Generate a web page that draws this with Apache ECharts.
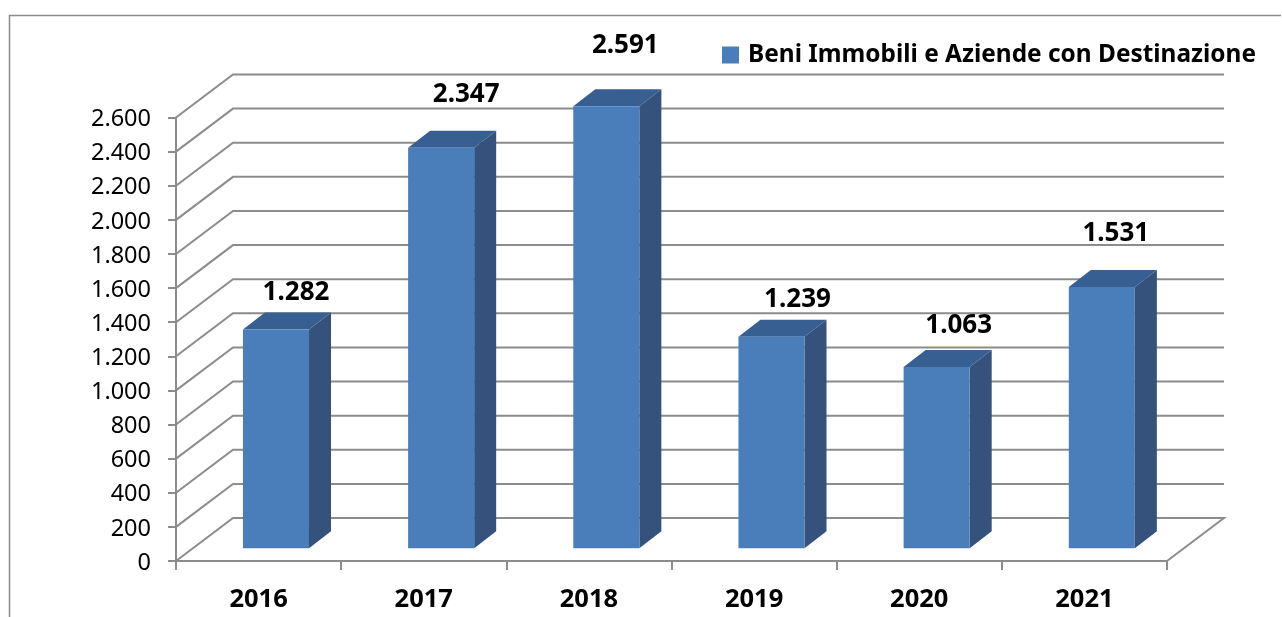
<!DOCTYPE html>
<html><head><meta charset="utf-8">
<style>html,body{margin:0;padding:0;background:#fff}#c{width:1282px;height:617px}</style>
<script src="https://cdn.jsdelivr.net/npm/echarts@6/dist/echarts.min.js"></script>
</head><body><div id="c"></div>
<script>
const categories = ['2016','2017','2018','2019','2020','2021'];
const values = [1282,2347,2591,1239,1063,1531];
const yTicks = [0,200,400,600,800,1000,1200,1400,1600,1800,2000,2200,2400,2600];
const seriesName = 'Beni Immobili e Aziende con Destinazione';
const labelShiftX = [20,25,19,26,22,14];
const labelShiftY = [-37,-53,-61,-37,-41,-53];

const FONT = '"Noto Sans"';
const GRAY = '#8c8c8c';
const fmt = v => String(v).replace(/\B(?=(\d{3})+$)/g, '.');
const WALL_DX = 57, WALL_DY = -43;
const BAR_OFF_X = 17.4, BAR_OFF_Y = -12.8, BAR_DX = 22, BAR_DY = -17, BAR_RATIO = 0.4;

function renderWall(params, api) {
  const g = params.coordSys;
  const y = api.coord([0, api.value(1)])[1];
  const x0 = g.x, x1 = g.x + g.width;
  const pts = [[x0, y], [x0 + WALL_DX, y + WALL_DY], [x1 + WALL_DX, y + WALL_DY]];
  if (api.value(1) === 0) pts.push([x1, y]);
  return { type: 'polyline', shape: { points: pts }, style: { fill: null, stroke: GRAY, lineWidth: 2 }, silent: true };
}
function renderBar(params, api) {
  const i = api.value(0), v = api.value(1);
  const c = api.coord([i, v]), b = api.coord([i, 0]);
  const w = api.size([1, 0])[0] * BAR_RATIO;
  const l = c[0] - w / 2 + BAR_OFF_X, r = l + w;
  const t = c[1] + BAR_OFF_Y, m = b[1] + BAR_OFF_Y;
  return { type: 'group', children: [
    { type: 'polygon', shape: { points: [[r, t], [r + BAR_DX, t + BAR_DY], [r + BAR_DX, m + BAR_DY], [r, m]] }, style: { fill: '#34527c' } },
    { type: 'polygon', shape: { points: [[l, t], [l + BAR_DX, t + BAR_DY], [r + BAR_DX, t + BAR_DY], [r, t]] }, style: { fill: '#375f92' } },
    { type: 'rect', shape: { x: l, y: t, width: w, height: m - t }, style: { fill: '#4a7ebb' } },
    { type: 'text', x: c[0] + BAR_OFF_X + labelShiftX[i], y: t + labelShiftY[i],
      style: { text: fmt(v), fill: '#000', font: 'bold 26px ' + FONT, align: 'center', verticalAlign: 'middle' } }
  ]};
}

const chart = echarts.init(document.getElementById('c'), null, { renderer: 'canvas' });
chart.setOption({
  animation: false,
  backgroundColor: '#fff',
  textStyle: { fontFamily: FONT },
  grid: { left: 176, top: 117.5, width: 991, height: 443.5, containLabel: false },
  legend: { show: true, left: 717, top: 38, itemWidth: 17, itemHeight: 17, itemGap: 0,
    icon: 'rect', data: [seriesName],
    textStyle: { fontFamily: FONT, fontWeight: 'bold', fontSize: 24.4, color: '#000', padding: [0,0,0,4] } },
  xAxis: { type: 'category', data: categories,
    axisLine: { lineStyle: { color: GRAY, width: 2 } },
    axisTick: { show: true, length: 9, lineStyle: { color: GRAY, width: 2 } },
    axisLabel: { fontFamily: FONT, fontWeight: 'bold', fontSize: 25.5, color: '#000', margin: 26 },
    splitLine: { show: false } },
  yAxis: { type: 'value', min: 0, max: 2600, interval: 200,
    axisLine: { show: true, lineStyle: { color: GRAY, width: 2 } },
    axisTick: { show: true, length: 8, lineStyle: { color: GRAY, width: 2 } },
    axisLabel: { fontFamily: FONT, fontSize: 23.5, color: '#000', margin: 25, verticalAlign: 'top', lineHeight: 4, formatter: v => fmt(v) },
    splitLine: { show: false } },
  series: [
    { type: 'custom', name: 'griglia', renderItem: renderWall, silent: true, z: 1,
      data: yTicks.map(v => [0, v]), encode: { x: 0, y: 1 } },
    { type: 'custom', name: seriesName, renderItem: renderBar, z: 3, itemStyle: { color: '#4a7ebb' },
      data: values.map((v, i) => [i, v]), encode: { x: 0, y: 1 } }
  ],
  graphic: [
    { type: 'polyline', z: 0, silent: true, shape: { points: [[9.5, 617], [9.5, 15.5], [1281, 15.5]] },
      style: { fill: null, stroke: '#8c8c8c', lineWidth: 1.5 } }
  ]
});
</script></body></html>
